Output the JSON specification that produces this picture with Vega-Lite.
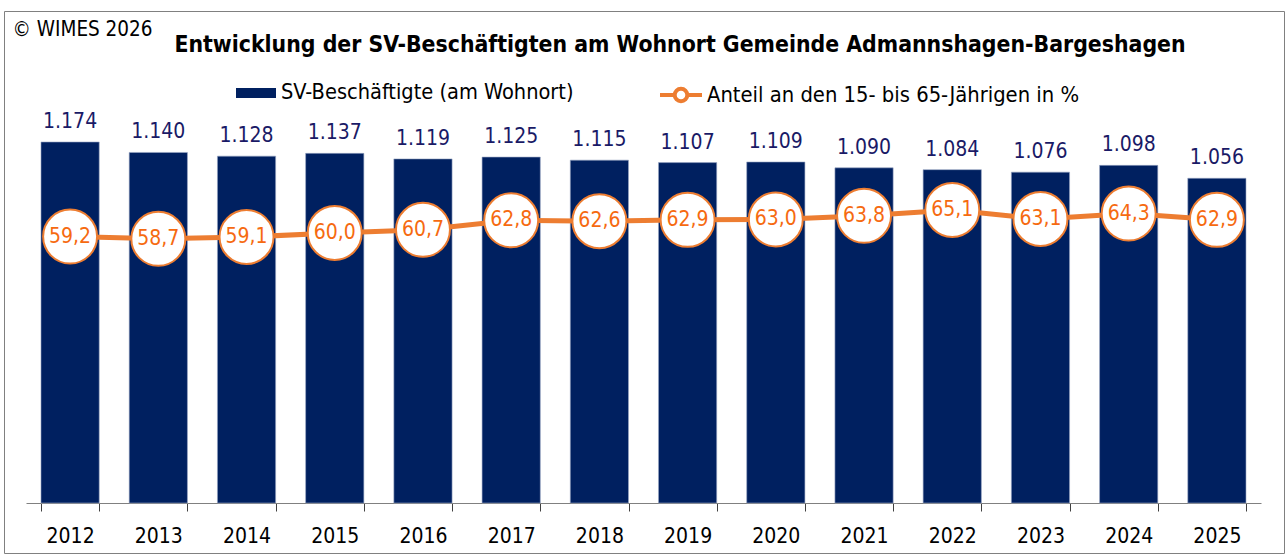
{
  "$schema": "https://vega.github.io/schema/vega-lite/v6.json",
  "width": 1280,
  "height": 542,
  "autosize": {"type": "none"},
  "padding": {"left": 4, "top": 11, "right": 4, "bottom": 1},
  "background": "white",
  "config": {
    "view": {"stroke": "#808080", "strokeWidth": 1},
    "font": "DejaVu Sans Condensed",
    "locale": {"number": {"decimal": ",", "thousands": ".", "grouping": [3], "currency": ["", " €"]}}
  },
  "title": {
    "text": "Entwicklung der SV-Beschäftigten am Wohnort Gemeinde Admannshagen-Bargeshagen",
    "font": "DejaVu Sans Condensed",
    "fontSize": 22.8,
    "fontWeight": "bold",
    "color": "black",
    "anchor": "middle",
    "frame": "group",
    "dx": 36,
    "offset": 0,
    "baseline": "alphabetic",
    "dy": 64
  },
  "data": {
    "values": [
      {"year": "2012", "sv": 1174, "anteil": 59.2},
      {"year": "2013", "sv": 1140, "anteil": 58.7},
      {"year": "2014", "sv": 1128, "anteil": 59.1},
      {"year": "2015", "sv": 1137, "anteil": 60.0},
      {"year": "2016", "sv": 1119, "anteil": 60.7},
      {"year": "2017", "sv": 1125, "anteil": 62.8},
      {"year": "2018", "sv": 1115, "anteil": 62.6},
      {"year": "2019", "sv": 1107, "anteil": 62.9},
      {"year": "2020", "sv": 1109, "anteil": 63.0},
      {"year": "2021", "sv": 1090, "anteil": 63.8},
      {"year": "2022", "sv": 1084, "anteil": 65.1},
      {"year": "2023", "sv": 1076, "anteil": 63.1},
      {"year": "2024", "sv": 1098, "anteil": 64.3},
      {"year": "2025", "sv": 1056, "anteil": 62.9}
    ]
  },
  "encoding": {
    "x": {
      "field": "year",
      "type": "ordinal",
      "scale": {"range": [22, 1257], "paddingInner": 0.34, "paddingOuter": 0.17},
      "axis": {
        "title": null,
        "labelAngle": 0,
        "labelFontSize": 21,
        "labelColor": "black",
        "labelFont": "DejaVu Sans Condensed",
        "tickBand": "extent",
        "tickSize": 8,
        "tickColor": "#404040",
        "domainColor": "#808080",
        "labelPadding": 14,
        "offset": -50,
        "grid": false
      }
    }
  },
  "layer": [
    {
      "encoding": {
        "y": {
          "field": "sv",
          "type": "quantitative",
          "scale": {"domain": [0, 1600], "range": [492, 0], "nice": false, "zero": true},
          "axis": {
            "title": "© WIMES 2026",
            "labels": false,
            "ticks": false,
            "domain": false,
            "grid": false,
            "titleAngle": 0,
            "titleX": 8,
            "titleY": 24,
            "titleAlign": "left",
            "titleBaseline": "alphabetic",
            "titleFontSize": 20.5,
            "titleFontWeight": "normal",
            "titleColor": "black",
            "titleFont": "DejaVu Sans Condensed"
          }
        }
      },
      "layer": [
        {
          "mark": {"type": "bar", "stroke": "#9AA8C4", "strokeWidth": 0.6},
          "encoding": {
            "fill": {
              "datum": "SV-Beschäftigte (am Wohnort)",
              "type": "nominal",
              "scale": {"range": ["#002060"]},
              "legend": {
                "orient": "none",
                "legendX": 232,
                "legendY": 62,
                "direction": "horizontal",
                "title": null,
                "symbolType": "M-1,-0.25H1V0.25H-1Z",
                "symbolSize": 1600,
                "symbolStrokeWidth": 0,
                "symbolFillColor": "#002060",
                "labelFontSize": 21.6,
                "labelLimit": 0,
                "labelFont": "DejaVu Sans Condensed",
                "labelColor": "black",
                "labelOffset": 5
              }
            }
          }
        },
        {
          "mark": {"type": "text", "baseline": "alphabetic", "dy": -14, "fontSize": 21, "color": "#1A1A66", "font": "DejaVu Sans Condensed"},
          "encoding": {
            "text": {"field": "sv", "type": "quantitative", "format": ",.0f"}
          }
        }
      ]
    },
    {
      "encoding": {
        "y": {
          "field": "anteil",
          "type": "quantitative",
          "scale": {"domain": [0, 109.3], "range": [492, 0], "nice": false, "zero": true},
          "axis": null
        }
      },
      "layer": [
        {
          "mark": {"type": "line", "strokeWidth": 5},
          "encoding": {
            "stroke": {
              "datum": "Anteil an den 15- bis 65-Jährigen in %",
              "type": "nominal",
              "scale": {"range": ["#ED7D31"]},
              "legend": {
                "orient": "none",
                "legendX": 654,
                "legendY": 61,
                "direction": "horizontal",
                "title": null,
                "symbolType": "M-1,0H-0.3M0.3,0H1M-0.3,0A0.3,0.3 0 1 1 0.3,0A0.3,0.3 0 1 1 -0.3,0Z",
                "symbolSize": 1764,
                "symbolStrokeWidth": 4,
                "symbolFillColor": "#ffffff",
                "symbolStrokeColor": "#ED7D31",
                "labelFontSize": 21.8,
                "labelLimit": 0,
                "labelFont": "DejaVu Sans Condensed",
                "labelColor": "black",
                "labelOffset": 3
              }
            }
          }
        },
        {
          "mark": {"type": "point", "shape": "circle", "filled": true, "fill": "white", "stroke": "#ED7D31", "strokeWidth": 2, "size": 2916, "opacity": 1}
        },
        {
          "mark": {"type": "text", "baseline": "middle", "fontSize": 21, "color": "#F66A10", "font": "DejaVu Sans Condensed"},
          "encoding": {
            "text": {"field": "anteil", "type": "quantitative", "format": ".1f"}
          }
        }
      ]
    }
  ],
  "resolve": {"scale": {"y": "independent"}}
}
